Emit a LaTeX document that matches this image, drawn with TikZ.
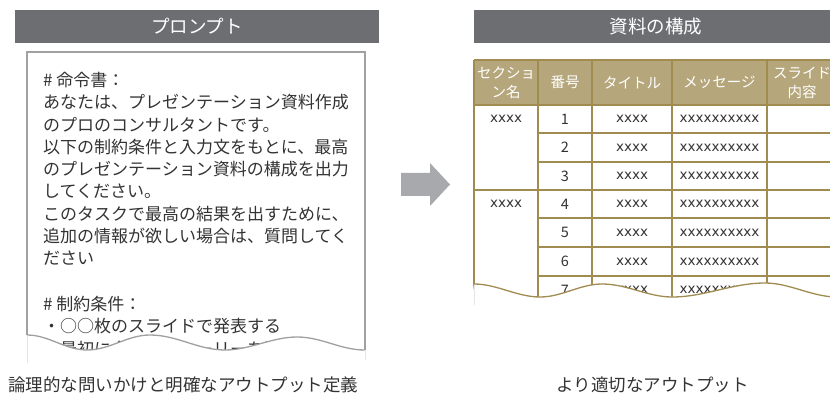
\documentclass[tikz,border=0pt]{standalone}
\usepackage{fontspec}
\setmainfont{Noto Sans CJK JP}
\newfontfamily\xfont{DejaVu Sans}
\definecolor{hdrgray}{HTML}{6D6E72}
\definecolor{boxgray}{HTML}{A0A0A0}
\definecolor{txt}{HTML}{333333}
\definecolor{gold}{HTML}{A08B50}
\definecolor{tanfill}{HTML}{B5A67B}
\definecolor{arrowgray}{HTML}{A7A9AC}
\definecolor{faint}{HTML}{E6E6E6}
\tikzset{
  hdrbar/.style={fill=hdrgray},
  hdrtext/.style={text=white, inner sep=0pt, font=\fontsize{18.5}{20}\selectfont},
  bodytext/.style={anchor=west, text=txt, inner sep=0pt, font=\fontsize{17}{20}\selectfont},
  captext/.style={text=txt, inner sep=0pt, font=\fontsize{17.5}{20}\selectfont},
  cell/.style={text=txt, inner sep=0pt, font=\fontsize{14.5}{16}\selectfont},
  xcell/.style={text=txt, inner sep=0pt, font=\xfont\fontsize{13.5}{16}\selectfont},
  thead/.style={text=white, inner sep=0pt, align=center, font=\fontsize{14.5}{20}\selectfont},
  gridline/.style={draw=gold, line width=1.8pt},
  boxline/.style={draw=boxgray, line width=1.2pt},
  waveline/.style={line width=1.3pt},
}
\begin{document}
\begin{tikzpicture}[x=1pt,y=-1pt]
\useasboundingbox (0,0) rectangle (830,398);
\clip (0,0) rectangle (830,398);

% ---------- left panel ----------
\fill[hdrbar] (15,10) rectangle (379,43);
\node[hdrtext] (hL) at (197,26.5) {プロンプト};

\draw[boxline] (27,335) -- (27,52) -- (365,52) -- (365,350);

\node[bodytext] (l1)  at (43,80)    {\# 命令書：};
\node[bodytext] (l2)  at (43,102.3) {あなたは、プレゼンテーション資料作成};
\node[bodytext] (l3)  at (43,124.6) {のプロのコンサルタントです。};
\node[bodytext] (l4)  at (43,146.9) {以下の制約条件と入力文をもとに、最高};
\node[bodytext] (l5)  at (43,169.2) {のプレゼンテーション資料の構成を出力};
\node[bodytext] (l6)  at (43,191.5) {してください。};
\node[bodytext] (l7)  at (43,213.8) {このタスクで最高の結果を出すために、};
\node[bodytext] (l8)  at (43,236.1) {追加の情報が欲しい場合は、質問してく};
\node[bodytext] (l9)  at (43,258.4) {ださい};
\node[bodytext] (l10) at (43,304)   {\# 制約条件：};
\node[bodytext] (l11) at (43,326.5) {・○○枚のスライドで発表する};
\node[bodytext] (l12) at (43,349)   {・最初に全体のストーリーを説明する};

% torn bottom of the prompt box
\fill[white] (27,335) .. controls (49,335) and (65,350) .. (87,350)
  .. controls (110,350) and (127,335) .. (150,335)
  .. controls (177,335) and (198,350) .. (225,350)
  .. controls (250,350) and (272,337) .. (297,337)
  .. controls (322,337) and (340,350) .. (365,350)
  -- (367,364) -- (25,364) -- cycle;
\draw[boxline, waveline] (27,335) .. controls (49,335) and (65,350) .. (87,350)
  .. controls (110,350) and (127,335) .. (150,335)
  .. controls (177,335) and (198,350) .. (225,350)
  .. controls (250,350) and (272,337) .. (297,337)
  .. controls (322,337) and (340,350) .. (365,350);
\draw[faint, line width=1pt] (27,336) -- (27,363);
\draw[faint, line width=1pt] (365,351) -- (365,360);

\node[captext, anchor=west] (capL) at (8,385) {論理的な問いかけと明確なアウトプット定義};

% ---------- arrow ----------
\fill[arrowgray] (401,173) -- (430,173) -- (430,163) -- (450,184.5)
  -- (430,206) -- (430,196) -- (401,196) -- cycle;

% ---------- right panel ----------
\fill[hdrbar] (474,10) rectangle (838,43);
\node[hdrtext] (hR) at (656,26.5) {資料の構成};

\fill[tanfill] (474,60) rectangle (838,105);

% horizontal grid lines
\draw[gridline] (474,60) -- (838,60);
\draw[gridline] (474,105) -- (838,105);
\draw[gridline] (538,133) -- (838,133);
\draw[gridline] (538,162) -- (838,162);
\draw[gridline] (474,190) -- (838,190);
\draw[gridline] (538,218) -- (838,218);
\draw[gridline] (538,247) -- (838,247);
\draw[gridline] (538,276) -- (838,276);
% vertical grid lines
\foreach \xx in {474,538,592,672,767,838}
  \draw[gridline] (\xx,60) -- (\xx,302);

% header texts
\node[thead] (th1) at (506,82.5) {セクショ\\[-1pt]ン名};
\node[thead] (th2) at (565,82.5) {番号};
\node[thead] (th3) at (632,82.5) {タイトル};
\node[thead] (th4) at (719.5,82.5) {メッセージ};
\node[thead] (th5) at (802,82.5) {スライド\\[-1pt]内容};

% section cells
\node[xcell] (s1) at (506,119) {xxxx};
\node[xcell] (s2) at (506,204) {xxxx};

% data rows
\foreach \n/\yy in {1/119,2/147.5,3/176,4/204,5/232.5,6/261.5,7/290}{
  \node[cell] (n\n) at (565,\yy) {\n};
  \node[xcell] (t\n) at (632,\yy) {xxxx};
  \node[xcell] (m\n) at (719.5,\yy) {xxxxxxxxxx};
}

% torn bottom of the table
\fill[white] (474,284) .. controls (497,284) and (517,297) .. (540,297)
  .. controls (562,297) and (580,284) .. (602,284)
  .. controls (627,284) and (648,297) .. (672,297)
  .. controls (705,297) and (732,283) .. (765,283)
  .. controls (790,283) and (812,297) .. (837,297)
  -- (840,312) -- (470,312) -- cycle;
\draw[gold, waveline] (474,284) .. controls (497,284) and (517,297) .. (540,297)
  .. controls (562,297) and (580,284) .. (602,284)
  .. controls (627,284) and (648,297) .. (672,297)
  .. controls (705,297) and (732,283) .. (765,283)
  .. controls (790,283) and (812,297) .. (837,297);
\draw[faint, line width=1pt] (474,285) -- (474,305);

\node[captext] (capR) at (652.5,385) {より適切なアウトプット};
\end{tikzpicture}
\end{document}
